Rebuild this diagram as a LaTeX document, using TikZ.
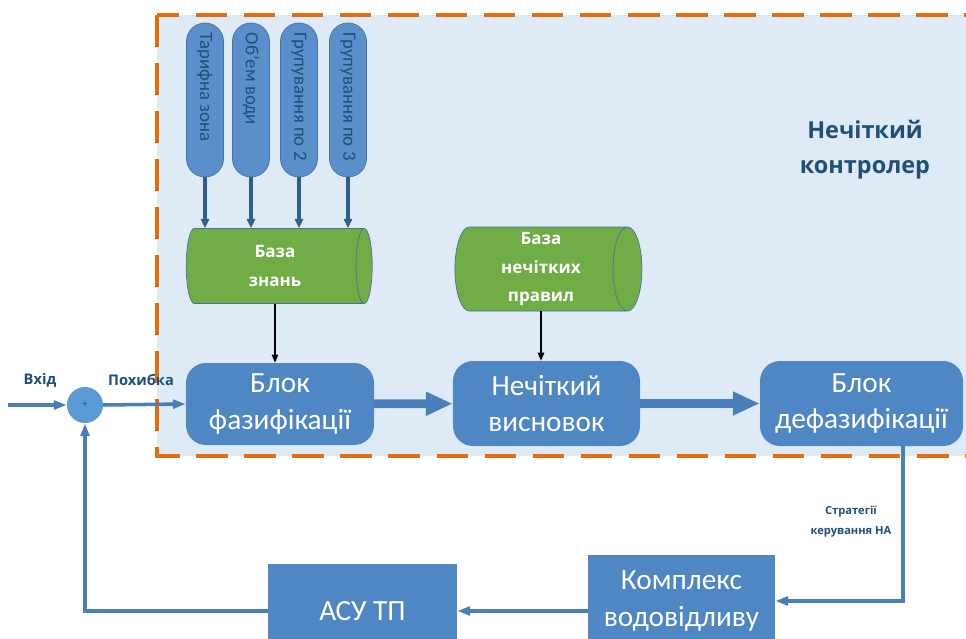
\documentclass[tikz,border=0pt]{standalone}
\usepackage{fontspec}
\setmainfont{Carlito}
\newfontfamily\boldsans{Open Sans}
\usetikzlibrary{arrows.meta,shapes.geometric}

\definecolor{fon}{HTML}{DEEBF7}
\definecolor{pomar}{HTML}{E46C0A}
\definecolor{syn}{HTML}{4F86C4}
\definecolor{synij}{HTML}{5A8FCB}
\definecolor{temno}{HTML}{1F4E79}
\definecolor{zelen}{HTML}{70AD47}
\definecolor{strilka}{HTML}{2E5E8E}
\definecolor{liniya}{HTML}{4A7EBB}
\definecolor{kolo}{HTML}{5B9BD5}

\tikzset{
  kontur/.style={draw=pomar, line width=3.6pt, dash pattern=on 27pt off 14pt, fill=fon},
  blok/.style={fill=syn, rounded corners=0.6cm, text=white, align=center,
    font=\fontsize{25}{31.5}\selectfont, inner sep=0pt},
  pryam/.style={fill=syn, text=white, align=center,
    font=\fontsize{25}{31.5}\selectfont, inner sep=0pt},
  pill/.style={fill=synij, draw=synij!80!black, line width=0.6pt, rounded corners=0.55cm,
    minimum width=1.11cm, minimum height=4.62cm, inner sep=0pt},
  pilltext/.style={rotate=-90, anchor=west, text=temno, inner sep=0pt,
    font=\fontsize{16}{16}\selectfont},
  baza/.style={cylinder, shape border rotate=0, aspect=0.4, draw=temno!80, line width=0.6pt,
    cylinder uses custom fill, cylinder body fill=zelen, cylinder end fill=zelen,
    text=white, align=center, inner sep=0pt,
    font=\boldsans\bfseries\fontsize{14.5}{24}\selectfont},
  suma/.style={circle, fill=kolo, minimum size=1.08cm, inner sep=0pt, text=temno,
    font=\fontsize{9}{9}\selectfont},
  pidpys/.style={text=temno, align=center, font=\boldsans\bfseries\fontsize{12.5}{14}\selectfont},
  nazva/.style={text=temno, align=center, font=\boldsans\bfseries\fontsize{20}{30}\selectfont},
  vkh/.style={draw=strilka, line width=2.6pt, -{Triangle[length=8pt,width=7pt]}},
  tonka/.style={draw=black, line width=1.3pt, -{Triangle[length=7pt,width=5.5pt]}},
  tonkasyn/.style={draw=liniya, line width=3pt, -{Triangle[length=11pt,width=7.5pt]}},
  shyroka/.style={draw=liniya, line width=7.5pt, -{Triangle[length=23pt,width=19pt]}}
}

\begin{document}
\begin{tikzpicture}[x=0.03cm,y=-0.03cm]
\useasboundingbox (0,0) rectangle (966,639);
\clip (0,0) rectangle (966,639);

% nechitkyi kontroler
\draw[kontur] (157,15) rectangle (1000,456);
\node[nazva] (title) at (865,150) {Нечіткий\\контролер};

% vkhody bazy znan
\foreach \x/\t [count=\i] in {205/Тарифна зона, 251/Об’ем води, 299/Групування по 2, 348/Групування по 3} {
  \node[pill] (p\i) at (\x,100) {};
  \node[pilltext] at ([yshift=-0.3cm]p\i.north) {\t};
}

% bazy
\node[baza, minimum width=2.25cm, minimum height=5.58cm] (kb) at (275,266) {База\\знань};
\node[baza, minimum width=2.52cm, minimum height=5.61cm] (rb) at (541,269) {База\\нечітких\\правил};

\foreach \i in {1,...,4}
  \draw[vkh] (p\i.south) -- (p\i.south |- kb.north);

% bloky
\node[blok, minimum width=5.64cm, minimum height=2.46cm] (fuzz) at (280,404) {Блок\\фазифікації};
\node[blok, minimum width=5.61cm, minimum height=2.55cm] (infer) at (546.5,403.5) {Нечіткий\\висновок};
\node[blok, minimum width=6.09cm, minimum height=2.55cm] (defuzz) at (861.5,403.5) {Блок\\дефазифікації};

\draw[tonka] (kb.south) -- (kb.south |- fuzz.north);
\draw[tonka] (rb.south) -- (rb.south |- infer.north);
\draw[shyroka] (fuzz) -- (infer);
\draw[shyroka] (infer) -- (defuzz);

% vkhid i sumator
\node[suma] (sum) at (85,405) {+};
\coordinate (vkhid) at (8,405);
\node[pidpys] (lvkhid) at (40,380) {Вхід};
\node[pidpys] (lpokh) at (141,380) {Похибка};
\draw[tonkasyn] (vkhid) -- (sum.west);
\draw[tonkasyn] (sum.east) -- (fuzz.west);

% obiekt keruvannia
\node[pryam, minimum width=5.61cm, minimum height=2.76cm] (kompl) at (681.5,601) {Комплекс\\водовідливу};
\node[pryam, minimum width=5.67cm, minimum height=2.82cm] (asu) at (362.5,611) {АСУ ТП};
\node[pidpys, font=\boldsans\bfseries\fontsize{9.5}{17}\selectfont] (strat) at (851,522) {Стратегії\\керування НА};

\draw[tonkasyn] ([xshift=1.245cm]defuzz.south) |- (kompl.east);
\draw[tonkasyn] (kompl.west |- asu.east) -- (asu.east);
\draw[tonkasyn] (asu.west) -| (sum.south);
\end{tikzpicture}
\end{document}
